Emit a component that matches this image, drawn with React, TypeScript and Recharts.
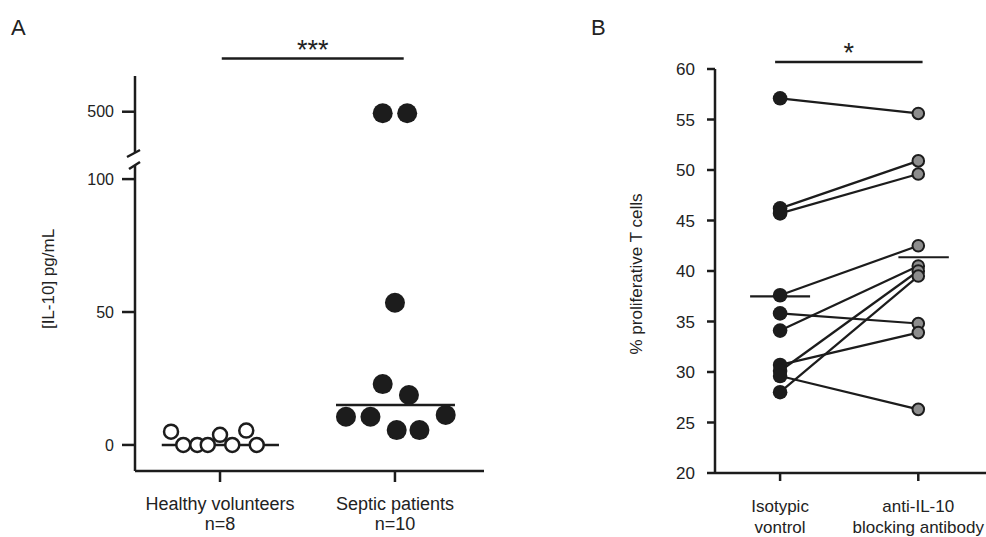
import { ScatterChart, Scatter, XAxis, YAxis, ReferenceLine, Label } from "recharts";

const FONT = "'Liberation Sans', Arial, Helvetica, sans-serif";
const INK = "#1c1c1c";
const TEXT = "#222";
const GREY = "#8d8d8d";

// Panel A: [IL-10] pg/mL, one dot per subject (x = jittered group position)
const groupsA = [["Healthy volunteers", "n=8"], ["Septic patients", "n=10"]];
const healthyPos = [0.72, 0.79, 0.87, 0.93, 1.0, 1.07, 1.15, 1.21];
const healthyIL10 = [5.0, 0, 0, 0, 3.8, 0, 5.4, 0];
const septicPos = [1.72, 1.86, 1.93, 2.0, 2.01, 2.08, 2.14, 2.29, 1.93, 2.07];
const septicIL10 = [10.6, 10.6, 22.9, 53.5, 5.6, 18.8, 5.6, 11.3, 498, 498];
const ticksLowA = [0, 50, 100];
const ticksHighA = [500];

// Panel B: % proliferative T cells, paired per donor
const groupsB = [["Isotypic", "vontrol"], ["anti-IL-10", "blocking antibody"]];
const isotypic = [57.1, 46.2, 45.7, 37.6, 35.8, 34.1, 30.7, 30.1, 29.6, 28.0];
const antiIL10 = [55.6, 50.9, 49.6, 42.5, 34.8, 40.5, 33.9, 40.0, 26.3, 39.5];
const ticksB = [20, 25, 30, 35, 40, 45, 50, 55, 60];

const toPoints = (xs: number[], ys: number[]) => xs.map((x, i) => ({ x, y: ys[i] }));
const median = (v: number[]) => {
  const s = [...v].sort((a, b) => a - b);
  const m = Math.floor(s.length / 2);
  return s.length % 2 ? s[m] : (s[m - 1] + s[m]) / 2;
};
const mean = (v: number[]) => v.reduce((a, b) => a + b, 0) / v.length;

const healthyPts = toPoints(healthyPos, healthyIL10);
const septicAll = toPoints(septicPos, septicIL10);
const septicLow = septicAll.filter((p) => p.y <= 100);
const septicHigh = septicAll.filter((p) => p.y > 100);
const isoPts = isotypic.map((y) => ({ x: 1, y }));
const antiPts = antiIL10.map((y) => ({ x: 2, y }));
const pairs = isotypic.map((y, i) => [{ x: 1, y }, { x: 2, y: antiIL10[i] }]);

const domainA: [number, number] = [0.514, 2.509];
const domainB: [number, number] = [0.529, 2.49];

const openDot = (p: any) => <circle cx={p.cx} cy={p.cy} r={7} fill="#fff" stroke={INK} strokeWidth={2.5} />;
const bigDot = (p: any) => <circle cx={p.cx} cy={p.cy} r={10} fill={INK} />;
const blackDot = (p: any) => <circle cx={p.cx} cy={p.cy} r={7.3} fill={INK} />;
const greyDot = (p: any) => <circle cx={p.cx} cy={p.cy} r={5.8} fill={GREY} stroke={INK} strokeWidth={2} />;
const noDot = () => <g />;

const GroupTick = ({ x, y, payload, lines, fontSize, first, gap }: any) => {
  const lab = lines[Math.round(payload.value) - 1];
  if (!lab) return <g />;
  return (
    <text x={x} y={y} textAnchor="middle" fontFamily={FONT} fontSize={fontSize} fill={TEXT}>
      {lab.map((t: string, i: number) => (
        <tspan key={i} x={x} dy={i === 0 ? first : gap}>{t}</tspan>
      ))}
    </text>
  );
};

const AxisTitle = ({ cx, cy, text, size }: any) => (
  <text x={cx} y={cy} transform={`rotate(-90 ${cx} ${cy})`} textAnchor="middle" dominantBaseline="central"
    fontFamily={FONT} fontSize={size} fill={TEXT}>{text}</text>
);

const axisLine = { stroke: INK, strokeWidth: 2.5 };
const tickFont = (size: number) => ({ fontFamily: FONT, fontSize: size, fill: TEXT });

export default function App() {
  const medHealthy = median(healthyIL10);
  const medSeptic = median(septicIL10);
  const meanIso = mean(isotypic);
  const meanAnti = mean(antiIL10);

  return (
    <div style={{ position: "absolute", left: 0, top: 0, width: 986, height: 537, background: "#fff" }}>
      <svg width={986} height={537} style={{ position: "absolute", left: 0, top: 0 }}>
        <text x={11} y={35} fontFamily={FONT} fontSize={22} fill={TEXT}>A</text>
        <text x={591} y={35} fontFamily={FONT} fontSize={22} fill={TEXT}>B</text>
        {/* axis break marks */}
        <line x1={127} y1={157} x2={140} y2={150} stroke={INK} strokeWidth={2.5} />
        <line x1={129} y1={169} x2={140} y2={162} stroke={INK} strokeWidth={2.5} />
      </svg>

      {/* Panel A, lower segment 0-100 */}
      <div style={{ position: "absolute", left: 0, top: 0 }}>
        <ScatterChart width={484} height={537} margin={{ top: 165, right: 0, bottom: 0, left: 0 }}>
          <XAxis type="number" dataKey="x" domain={domainA} ticks={[1, 2]} height={66}
            axisLine={axisLine} tickLine={axisLine} tickSize={11} allowDataOverflow
            tick={(p: any) => <GroupTick {...p} lines={groupsA} fontSize={18} first={26} gap={20} />} />
          <YAxis type="number" dataKey="y" domain={[-9.8, 105.3]} ticks={ticksLowA} width={135}
            axisLine={axisLine} tickLine={axisLine} tickSize={13} tickMargin={8} tick={tickFont(16)} allowDataOverflow>
            <Label content={() => <AxisTitle cx={48} cy={279} text="[IL-10] pg/mL" size={17} />} />
          </YAxis>
          <ReferenceLine segment={[{ x: 0.667, y: medHealthy }, { x: 1.337, y: medHealthy }]} stroke={INK} strokeWidth={2.5} />
          <ReferenceLine segment={[{ x: 1.663, y: medSeptic }, { x: 2.343, y: medSeptic }]} stroke={INK} strokeWidth={2.5} />
          <Scatter data={healthyPts} shape={openDot} isAnimationActive={false} />
          <Scatter data={septicLow} shape={bigDot} isAnimationActive={false} />
        </ScatterChart>
      </div>

      {/* Panel A, upper segment around 500 */}
      <div style={{ position: "absolute", left: 0, top: 0 }}>
        <ScatterChart width={484} height={152} margin={{ top: 76, right: 0, bottom: 0, left: 0 }}>
          <XAxis type="number" dataKey="x" domain={domainA} hide allowDataOverflow />
          <YAxis type="number" dataKey="y" domain={[447, 547]} ticks={ticksHighA} width={135}
            axisLine={axisLine} tickLine={axisLine} tickSize={13} tickMargin={8} tick={tickFont(16)} allowDataOverflow />
          <ReferenceLine segment={[{ x: 1.01, y: 570 }, { x: 2.05, y: 570 }]} ifOverflow="visible" stroke={INK} strokeWidth={2.5}
            label={{ value: "***", position: "top", offset: 0, fontFamily: FONT, fontSize: 27, fill: TEXT }} />
          <Scatter data={septicHigh} shape={bigDot} isAnimationActive={false} />
        </ScatterChart>
      </div>

      {/* Panel B */}
      <div style={{ position: "absolute", left: 590, top: 0 }}>
        <ScatterChart width={396} height={537} margin={{ top: 69, right: 0, bottom: 0, left: 0 }}>
          <XAxis type="number" dataKey="x" domain={domainB} ticks={[1, 2]} height={64}
            axisLine={axisLine} tickLine={axisLine} tickSize={8} allowDataOverflow
            tick={(p: any) => <GroupTick {...p} lines={groupsB} fontSize={17} first={29} gap={21} />} />
          <YAxis type="number" dataKey="y" domain={[20, 60]} ticks={ticksB} width={125}
            axisLine={axisLine} tickLine={axisLine} tickSize={8} tickMargin={12} tick={tickFont(17)} allowDataOverflow>
            <Label content={() => <AxisTitle cx={46.7} cy={274} text="% proliferative T cells" size={17} />} />
          </YAxis>
          <ReferenceLine segment={[{ x: 0.964, y: 60.7 }, { x: 2.031, y: 60.7 }]} ifOverflow="visible" stroke={INK} strokeWidth={2.5}
            label={{ value: "*", position: "top", offset: 0, fontFamily: FONT, fontSize: 27, fill: TEXT }} />
          {pairs.map((d, i) => (
            <Scatter key={i} data={d} shape={noDot} line={{ stroke: INK, strokeWidth: 2.2 }} isAnimationActive={false} />
          ))}
          <ReferenceLine segment={[{ x: 0.783, y: meanIso }, { x: 1.217, y: meanIso }]} stroke={INK} strokeWidth={2.2} />
          <ReferenceLine segment={[{ x: 1.856, y: meanAnti }, { x: 2.221, y: meanAnti }]} stroke={INK} strokeWidth={2.2} />
          <Scatter data={isoPts} shape={blackDot} isAnimationActive={false} />
          <Scatter data={antiPts} shape={greyDot} isAnimationActive={false} />
        </ScatterChart>
      </div>
    </div>
  );
}
